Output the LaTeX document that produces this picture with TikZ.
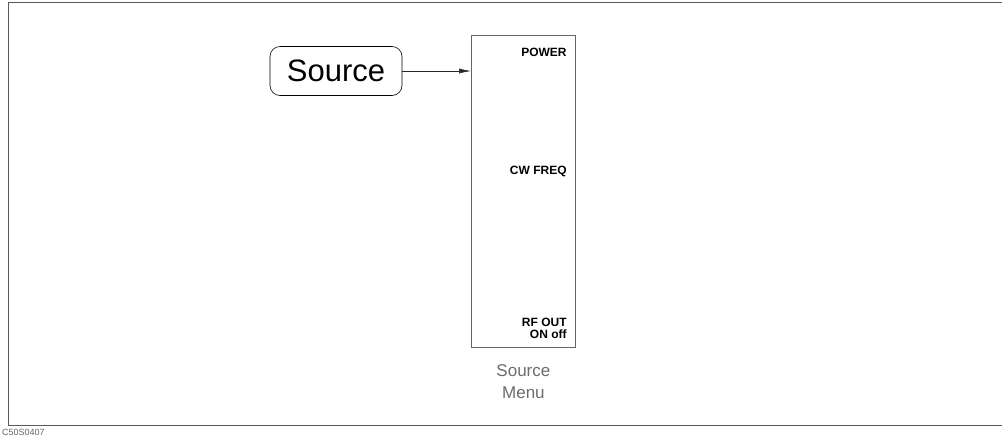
\documentclass[tikz,border=0pt]{standalone}
\usepackage{fontspec}
\setmainfont{Liberation Sans}
\usetikzlibrary{arrows.meta,positioning}

\tikzset{
  softkey/.style={anchor=east, font=\bfseries\fontsize{12}{12}\selectfont, align=right, inner sep=0pt},
  caption/.style={font=\fontsize{17}{22}\selectfont, text=gray!85!black, align=center}
}

\begin{document}
\begin{tikzpicture}[x=1pt, y=-1pt, >={Latex[length=12pt,width=5pt]}]
                \useasboundingbox (0,0) rectangle (1002,437);

                % outer frame
                \draw[gray!70!black, line width=0.8pt] (1002,2) -- (8,2) -- (8,425) -- (1002,425);
                \node[anchor=west, inner sep=0pt, font=\fontsize{9}{9}\selectfont, text=gray!80!black] (figno) at (2,432) {C50S0407};

                % hardkey and menu
                \node[draw, rounded corners=10pt, line width=0.6pt, minimum width=132pt, minimum height=49pt,
                      font=\fontsize{31}{32}\selectfont] (srckey) at (336,71) {Source};
                \node[draw=gray!80!black, line width=0.8pt, minimum width=104pt, minimum height=312pt,
                      anchor=north west] (menu) at (471,35) {};

                \draw[->, gray!30!black, line width=0.6pt] (srckey.east) -- (menu.west |- srckey.east);

                % softkey labels
                \node[softkey] (power) at ([xshift=-9pt, yshift=-17pt]menu.north east) {POWER};
                \node[softkey] (cwfreq) at ([xshift=-9pt, yshift=-136pt]menu.north east) {CW FREQ};
                \node[softkey, anchor=south east] (rfout) at ([xshift=-9pt, yshift=9pt]menu.south east) {RF OUT\\ON off};

                \node[caption, below=13pt of menu] (mtitle) {Source\\Menu};
            \end{tikzpicture}
\end{document}
